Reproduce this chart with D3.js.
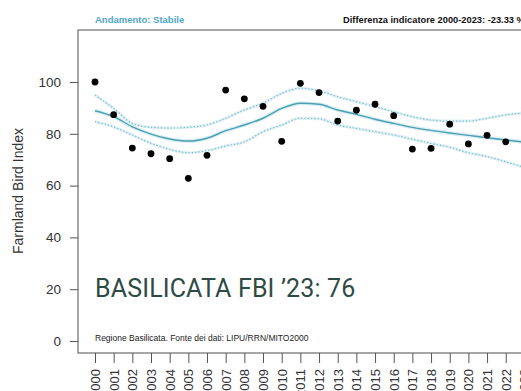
<!DOCTYPE html>
<html>
<head>
<meta charset="utf-8">
<script src="https://cdn.jsdelivr.net/npm/d3@7"></script>
<style>
  body { margin: 0; background: #fff; }
  svg { display: block; }
</style>
</head>
<body>
<div id="chart-area"></div>
<script>
// valori
var years = d3.range(2000, 2024);
var fbi = [100, 87.4, 74.5, 72.3, 70.4, 62.8, 71.7, 96.9, 93.5, 90.6, 77.1, 99.5,
           95.9, 84.9, 89.1, 91.4, 87.0, 74.1, 74.4, 83.7, 76.1, 79.4, 76.9, 76.7];
var trend = [88.9, 86.6, 82.7, 79.9, 78.0, 77.2, 78.3, 81.2, 83.4, 86.0, 89.8, 91.8,
             91.4, 89.2, 87.5, 85.6, 84.0, 82.5, 81.3, 80.3, 79.4, 78.5, 77.6, 76.8];
var upper = [95.0, 89.8, 84.0, 82.5, 82.2, 82.5, 83.4, 86.0, 89.2, 91.8, 95.6, 97.6,
             96.6, 94.3, 92.4, 90.5, 88.5, 86.6, 85.3, 84.9, 84.9, 86.0, 87.3, 88.0];
var lower = [84.7, 82.7, 79.5, 76.3, 74.0, 72.7, 73.5, 75.3, 76.9, 80.8, 83.4, 86.0,
             85.8, 83.4, 82.1, 80.8, 79.5, 77.9, 76.3, 74.8, 72.7, 71.2, 69.2, 67.0];
var yTicks = [0, 20, 40, 60, 80, 100];

var width = 521, height = 391;

var svg = d3.select("#chart-area")
    .append("svg")
    .attr("width", width)
    .attr("height", height)
    .style("font-family", "'Liberation Sans', Arial, sans-serif");

var x = d3.scaleLinear().domain([2000, 2023]).range([95, 524.4]);
var y = d3.scaleLinear().domain([0, 100]).range([341, 82]);

// riquadro
svg.append("rect")
    .attr("x", 78).attr("y", 30)
    .attr("width", 480).attr("height", 323)
    .attr("fill", "none")
    .attr("stroke", "#777")
    .attr("stroke-width", 1.3);

// intestazioni
svg.append("text")
    .attr("x", 95).attr("y", 23)
    .attr("font-size", 9.5).attr("font-weight", "bold")
    .attr("fill", "#4fa6c6")
    .text("Andamento:  Stabile");

svg.append("text")
    .attr("x", 343).attr("y", 23)
    .attr("font-size", 9.3).attr("font-weight", "bold")
    .attr("fill", "#111")
    .text("Differenza indicatore 2000-2023: -23.33 %");

// assi
var yAxis = svg.append("g")
    .attr("transform", "translate(78,0)")
    .call(d3.axisLeft(y).tickValues(yTicks).tickSize(8).tickPadding(9));

var xAxis = svg.append("g")
    .attr("transform", "translate(0,353)")
    .call(d3.axisBottom(x).tickValues(years).tickSize(10).tickFormat(d3.format("d")));

[yAxis, xAxis].forEach(function (a) {
    a.select(".domain").remove();
    a.selectAll("line").attr("stroke", "#555");
    a.selectAll("text")
        .attr("fill", "#333")
        .style("font-size", "13.5px")
        .style("font-family", "'Liberation Sans', Arial, sans-serif");
});

xAxis.selectAll("text")
    .style("font-size", "13px")
    .attr("transform", "rotate(-90)")
    .attr("x", -16)
    .attr("y", 0)
    .attr("dy", "0.35em")
    .style("text-anchor", "end");

svg.append("text")
    .attr("transform", "translate(23,191) rotate(-90)")
    .attr("text-anchor", "middle")
    .attr("font-size", 14)
    .attr("fill", "#333")
    .text("Farmland Bird Index");

// curve
var line = function (vals) {
    return d3.line()
        .x(function (d, i) { return x(years[i]); })
        .y(function (d) { return y(d); })
        .curve(d3.curveMonotoneX)(vals);
};

[upper, lower].forEach(function (band) {
    svg.append("path")
        .attr("d", line(band))
        .attr("fill", "none")
        .attr("stroke", "#dff0f4")
        .attr("stroke-width", 3);
    svg.append("path")
        .attr("d", line(band))
        .attr("fill", "none")
        .attr("stroke", "#78b9c6")
        .attr("stroke-width", 1.1)
        .attr("stroke-dasharray", "1.3,2");
});

svg.append("path")
    .attr("d", line(trend))
    .attr("fill", "none")
    .attr("stroke", "#dcf0f4")
    .attr("stroke-width", 4);
svg.append("path")
    .attr("d", line(trend))
    .attr("fill", "none")
    .attr("stroke", "#4b9fb2")
    .attr("stroke-width", 1.4);

// punti
svg.selectAll("circle")
    .data(fbi)
    .enter()
    .append("circle")
    .attr("cx", function (d, i) { return x(years[i]); })
    .attr("cy", function (d) { return y(d); })
    .attr("r", 3.4)
    .attr("fill", "#000");

// note
svg.append("text")
    .attr("x", 95).attr("y", 341)
    .attr("font-size", 8.5)
    .attr("fill", "#222")
    .text("Regione Basilicata. Fonte dei dati: LIPU/RRN/MITO2000");

svg.append("text")
    .attr("x", 95).attr("y", 297)
    .attr("font-size", 25)
    .attr("fill", "#2e4a45")
    .style("font-family", "Roboto, sans-serif")
    .style("letter-spacing", "0.15px")
    .text("BASILICATA FBI \u201923: 76");
</script>
</body>
</html>
